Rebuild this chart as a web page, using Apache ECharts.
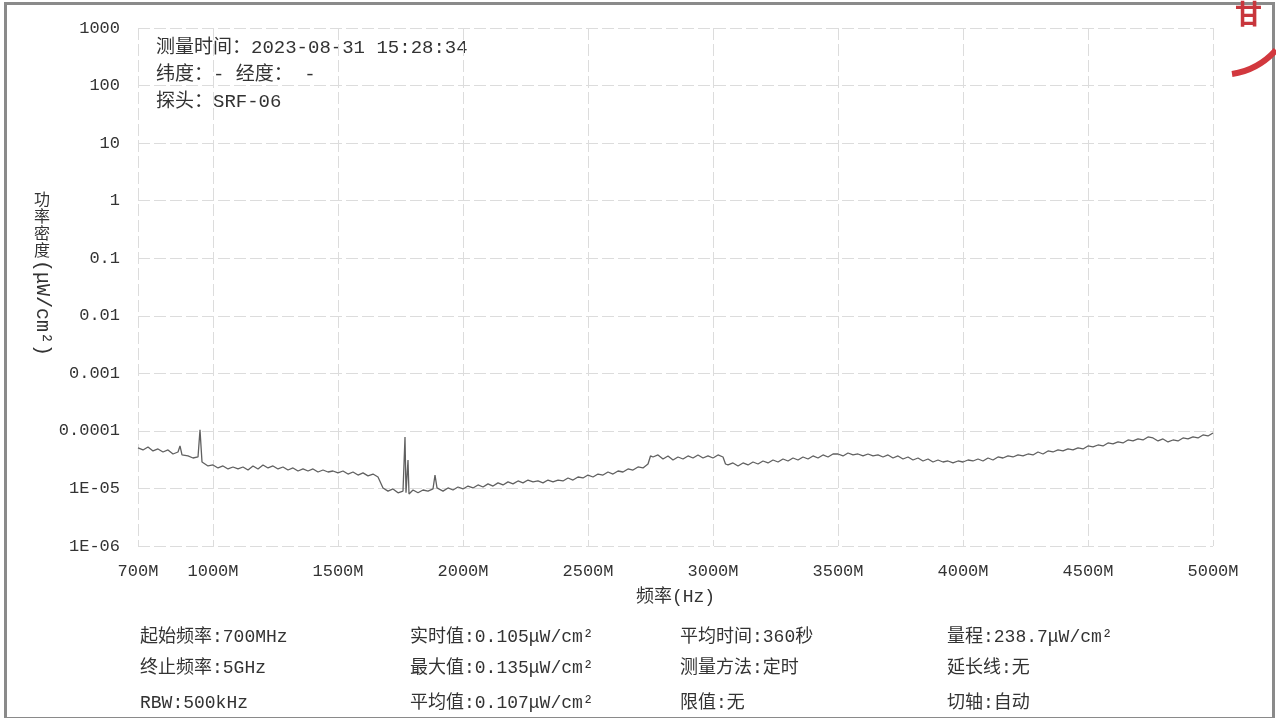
<!DOCTYPE html>
<html>
<head>
    <meta charset="utf-8" />
    <title>功率密度频谱</title>
    <script src="https://cdn.jsdelivr.net/npm/echarts@6/dist/echarts.min.js"></script>
    <style>
        html, body { margin: 0; padding: 0; background: #fff; }
        #main { width: 1276px; height: 718px; }
    </style>
</head>
<body>
    <div id="main"></div>
    <script>
        // 频率 (MHz)
        var freqMHz = [
            700, 720, 740, 760, 780, 800, 820, 840, 860, 868, 876, 900, 920, 940, 948, 956, 980,
            1000, 1020, 1040, 1060, 1080, 1100, 1120, 1140, 1160, 1180, 1200, 1220, 1240, 1260, 1280,
            1300, 1320, 1340, 1360, 1380, 1400, 1420, 1440, 1460, 1480, 1500, 1520, 1540, 1560, 1580,
            1600, 1620, 1640, 1660, 1680, 1700, 1720, 1740, 1760, 1768, 1772, 1776, 1780, 1784,
            1800, 1820, 1840, 1860, 1880, 1888, 1896, 1920, 1940, 1960, 1980,
            2000, 2020, 2040, 2060, 2080, 2100, 2120, 2140, 2160, 2180, 2200, 2220, 2240, 2260, 2280,
            2300, 2320, 2340, 2360, 2380, 2400, 2420, 2440, 2460, 2480, 2500, 2520, 2540, 2560, 2580,
            2600, 2620, 2640, 2660, 2680, 2700, 2720, 2740, 2750, 2760, 2780, 2800, 2820, 2840, 2860,
            2880, 2900, 2920, 2940, 2960, 2980, 3000, 3020, 3040, 3050, 3060, 3080, 3100, 3120, 3140,
            3160, 3180, 3200, 3220, 3240, 3260, 3280, 3300, 3320, 3340, 3360, 3380, 3400, 3420, 3440,
            3460, 3480, 3500, 3520, 3540, 3560, 3580, 3600, 3620, 3640, 3660, 3680, 3700, 3720, 3740,
            3760, 3780, 3800, 3820, 3840, 3860, 3880, 3900, 3920, 3940, 3960, 3980, 4000, 4020, 4040,
            4060, 4080, 4100, 4120, 4140, 4160, 4180, 4200, 4220, 4240, 4260, 4280, 4300, 4320, 4340,
            4360, 4380, 4400, 4420, 4440, 4460, 4480, 4500, 4520, 4540, 4560, 4580, 4600, 4620, 4640,
            4660, 4680, 4700, 4720, 4740, 4760, 4780, 4800, 4820, 4840, 4860, 4880, 4900, 4920, 4940,
            4960, 4980, 5000
        ];
        // 功率密度 (μW/cm²)
        var density = [
            5.05e-5, 4.66e-5, 5.26e-5, 4.48e-5, 4.85e-5, 4.30e-5, 4.66e-5, 3.97e-5, 4.30e-5, 5.47e-5, 3.82e-5, 3.67e-5, 3.38e-5, 3.52e-5, 1.04e-4, 2.88e-5, 2.46e-5,
            2.56e-5, 2.27e-5, 2.46e-5, 2.18e-5, 2.36e-5, 2.18e-5, 2.36e-5, 2.09e-5, 2.46e-5, 2.18e-5, 2.56e-5, 2.27e-5, 2.46e-5, 2.18e-5, 2.36e-5,
            2.09e-5, 2.27e-5, 2.01e-5, 2.18e-5, 2.01e-5, 2.18e-5, 1.93e-5, 2.09e-5, 1.93e-5, 2.01e-5, 1.86e-5, 2.01e-5, 1.78e-5, 1.93e-5, 1.71e-5,
            1.86e-5, 1.65e-5, 1.78e-5, 1.58e-5, 1.02e-5, 9.0e-6, 9.8e-6, 8.4e-6, 9.0e-6, 7.84e-5, 8.4e-6, 8.7e-6, 3.12e-5, 8.0e-6,
            9.4e-6, 8.4e-6, 9.4e-6, 9.0e-6, 9.8e-6, 1.71e-5, 1.02e-5, 9.0e-6, 1.02e-5, 9.4e-6, 1.06e-5,
            9.8e-6, 1.10e-5, 1.02e-5, 1.15e-5, 1.06e-5, 1.20e-5, 1.10e-5, 1.25e-5, 1.15e-5, 1.30e-5, 1.20e-5, 1.35e-5, 1.25e-5, 1.40e-5, 1.30e-5,
            1.35e-5, 1.25e-5, 1.40e-5, 1.30e-5, 1.40e-5, 1.35e-5, 1.52e-5, 1.40e-5, 1.58e-5, 1.52e-5, 1.71e-5, 1.58e-5, 1.78e-5, 1.71e-5, 1.93e-5,
            1.78e-5, 2.01e-5, 1.93e-5, 2.18e-5, 2.09e-5, 2.36e-5, 2.27e-5, 2.66e-5, 3.67e-5, 3.52e-5, 3.82e-5, 3.25e-5, 3.67e-5, 3.12e-5, 3.52e-5,
            3.25e-5, 3.67e-5, 3.38e-5, 3.82e-5, 3.38e-5, 3.67e-5, 3.38e-5, 3.82e-5, 3.52e-5, 2.66e-5, 2.56e-5, 2.77e-5, 2.46e-5, 2.77e-5, 2.56e-5,
            2.88e-5, 2.66e-5, 3.00e-5, 2.77e-5, 3.12e-5, 2.88e-5, 3.25e-5, 3.00e-5, 3.38e-5, 3.12e-5, 3.52e-5, 3.25e-5, 3.67e-5, 3.38e-5, 3.82e-5,
            3.52e-5, 3.97e-5, 3.97e-5, 3.67e-5, 4.13e-5, 3.82e-5, 3.97e-5, 3.67e-5, 3.97e-5, 3.67e-5, 3.82e-5, 3.52e-5, 3.82e-5, 3.38e-5, 3.67e-5,
            3.25e-5, 3.52e-5, 3.12e-5, 3.38e-5, 3.00e-5, 3.25e-5, 2.88e-5, 3.12e-5, 2.88e-5, 3.00e-5, 2.77e-5, 3.00e-5, 2.88e-5, 3.12e-5, 3.00e-5,
            3.25e-5, 3.00e-5, 3.38e-5, 3.12e-5, 3.52e-5, 3.38e-5, 3.67e-5, 3.52e-5, 3.82e-5, 3.67e-5, 3.97e-5, 3.82e-5, 4.30e-5, 3.97e-5, 4.48e-5,
            4.30e-5, 4.66e-5, 4.48e-5, 4.85e-5, 4.66e-5, 5.05e-5, 4.85e-5, 5.47e-5, 5.26e-5, 5.69e-5, 5.47e-5, 6.17e-5, 5.93e-5, 6.42e-5, 6.17e-5,
            6.95e-5, 6.68e-5, 7.24e-5, 6.95e-5, 7.84e-5, 7.53e-5, 6.68e-5, 7.24e-5, 6.42e-5, 6.95e-5, 6.68e-5, 7.53e-5, 7.24e-5, 7.84e-5, 7.53e-5,
            8.49e-5, 8.16e-5, 9.20e-5
        ];

        var xTickValues = [700, 1000, 1500, 2000, 2500, 3000, 3500, 4000, 4500, 5000];
        var yTickValues = [1000, 100, 10, 1, 0.1, 0.01, 0.001, 0.0001, 1e-5, 1e-6];
        var yTickLabels = ['1000', '100', '10', '1', '0.1', '0.01', '0.001', '0.0001', '1E-05', '1E-06'];

        var headerLines = ['测量时间：2023-08-31 15:28:34', '纬度：- 经度： -', '探头：SRF-06'];
        var footerCols = [
            ['起始频率:700MHz', '终止频率:5GHz', 'RBW:500kHz'],
            ['实时值:0.105μW/cm²', '最大值:0.135μW/cm²', '平均值:0.107μW/cm²'],
            ['平均时间:360秒', '测量方法:定时', '限值:无'],
            ['量程:238.7μW/cm²', '延长线:无', '切轴:自动']
        ];

        var FONT = "'Liberation Mono', 'Noto Sans CJK SC', monospace";
        var TXT = '#333';

        var points = [];
        for (var i = 0; i < freqMHz.length; i++) {
            points.push([freqMHz[i], density[i]]);
        }

        var graphics = [];
        // 边框
        graphics.push({
            type: 'rect', left: 3, top: 1, silent: true,
            shape: { width: 1268, height: 715 },
            style: { fill: 'none', stroke: '#8a8a8a', lineWidth: 3 }
        });
        // 左上角信息
        headerLines.forEach(function (t, k) {
            graphics.push({
                type: 'text', x: 156, y: 48 + k * 27,
                style: { text: t, font: '19px ' + FONT, fill: TXT, textVerticalAlign: 'middle' }
            });
        });
        // Y 轴名称 (竖排)
        graphics.push({
            type: 'text', x: 42, y: 190,
            style: { text: '功\n率\n密\n度', font: '16px "Noto Sans CJK SC"', fill: TXT, textAlign: 'center', lineHeight: 17 }
        });
        graphics.push({
            type: 'text', x: 42, y: 260, rotation: -Math.PI / 2,
            style: { text: '(μW/cm²)', font: '20px ' + FONT, fill: TXT, textAlign: 'left', textVerticalAlign: 'middle' }
        });
        // 底部参数
        var colX = [140, 410, 680, 947];
        var rowY = [637, 668, 703];
        footerCols.forEach(function (col, c) {
            col.forEach(function (t, r) {
                graphics.push({
                    type: 'text', x: colX[c], y: rowY[r],
                    style: { text: t, font: '18px ' + FONT, fill: TXT, textVerticalAlign: 'middle' }
                });
            });
        });
        // 右上角红章残迹
        graphics.push({
            type: 'text', x: 1235, y: 0,
            style: { text: '甘', font: 'bold 27px "Noto Sans CJK SC"', fill: '#c8363c' }
        });
        graphics.push({
            type: 'bezierCurve', silent: true,
            shape: { x1: 1232, y1: 74, x2: 1276, y2: 50, cpx1: 1258, cpy1: 70 },
            style: { stroke: '#d2383e', lineWidth: 6, fill: 'none' }
        });

        var myChart = echarts.init(document.getElementById('main'), null, { renderer: 'canvas' });
        var option = {
            backgroundColor: '#fff',
            animation: false,
            grid: { left: 138, right: 63, top: 28, bottom: 172 },
            xAxis: {
                type: 'value',
                min: 700,
                max: 5000,
                name: '频率(Hz)',
                nameLocation: 'middle',
                nameGap: 42,
                nameTextStyle: { color: TXT, fontSize: 18, fontFamily: FONT },
                axisLine: { show: false },
                axisTick: { show: false, customValues: xTickValues },
                axisLabel: {
                    customValues: xTickValues,
                    margin: 17,
                    color: TXT,
                    fontSize: 17,
                    fontFamily: FONT,
                    formatter: function (v) { return v + 'M'; }
                },
                splitLine: { show: true, lineStyle: { color: '#dcdcdc', width: 1, type: [12, 4] } }
            },
            yAxis: {
                type: 'log',
                logBase: 10,
                min: 1e-6,
                max: 1000,
                interval: 1,
                axisLine: { show: false },
                axisTick: { show: false },
                axisLabel: {
                    margin: 18,
                    color: TXT,
                    fontSize: 17,
                    fontFamily: FONT,
                    formatter: function (v) {
                        for (var j = 0; j < yTickValues.length; j++) {
                            if (Math.abs(Math.log10(v) - Math.log10(yTickValues[j])) < 0.01) return yTickLabels[j];
                        }
                        return '';
                    }
                },
                splitLine: { show: true, lineStyle: { color: '#dcdcdc', width: 1, type: [12, 4] } }
            },
            series: [{
                type: 'line',
                data: points,
                showSymbol: false,
                symbol: 'none',
                lineStyle: { color: '#606060', width: 1.3 }
            }],
            graphic: graphics
        };
        myChart.setOption(option);
    </script>
</body>
</html>
